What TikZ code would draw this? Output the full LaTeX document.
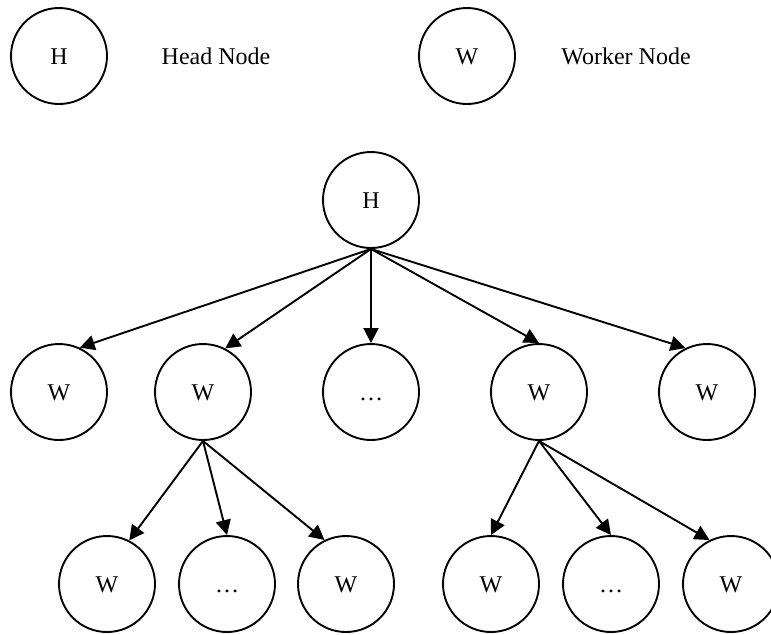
\documentclass[tikz,border=0pt]{standalone}
\usepackage{fontspec}
\setmainfont{Liberation Serif}
\usetikzlibrary{arrows.meta}

\tikzset{
	proc/.style={circle, draw, line width=0.95pt, minimum size=48pt, inner sep=0pt,
		font=\fontsize{12}{14}\selectfont, text height=8pt, text depth=0pt},
	label/.style={font=\fontsize{12}{14}\selectfont},
	link/.style={-{Triangle[length=7.5pt,width=7.5pt]}, line width=0.95pt},
}

\begin{document}
\begin{tikzpicture}[x=0.5pt, y=-0.5pt]
		\useasboundingbox (0,0) rectangle (771,634);
		
		% legend
		\node[proc] (keyH) at ( 59,56) {H};
		\node[label] (keyHtxt) at (216,56) {Head Node};
		\node[proc] (keyW) at (467,56) {W};
		\node[label] (keyWtxt) at (626,56) {Worker Node};
		
		% head
		\node[proc] (head) at (371,200) {H};
		
		% first level
		\node[proc] (w1) at ( 59,392) {W};
		\node[proc] (w2) at (203,392) {W};
		\node[proc] (w3) at (371,392) {\dots};
		\node[proc] (w4) at (539,392) {W};
		\node[proc] (w5) at (707,392) {W};
		
		% second level
		\node[proc] (w21) at (107,584) {W};
		\node[proc] (w22) at (227,584) {\dots};
		\node[proc] (w23) at (346,584) {W};
		\node[proc] (w41) at (491,584) {W};
		\node[proc] (w42) at (611,584) {\dots};
		\node[proc] (w43) at (731,584) {W};
		
		\draw[link] (head.south) -- (w1.65);
		\draw[link] (head.south) -- (w2.63);
		\draw[link] (head.south) -- (w3.north);
		\draw[link] (head.south) -- (w4.north);
		\draw[link] (head.south) -- (w5.116);
		
		\draw[link] (w2.south) -- (w21.63);
		\draw[link] (w2.south) -- (w22.north);
		\draw[link] (w2.south) -- (w23.116);
		\draw[link] (w4.south) -- (w41.north);
		\draw[link] (w4.south) -- (w42.north);
		\draw[link] (w4.south) -- (w43.116);
	\end{tikzpicture}
\end{document}
